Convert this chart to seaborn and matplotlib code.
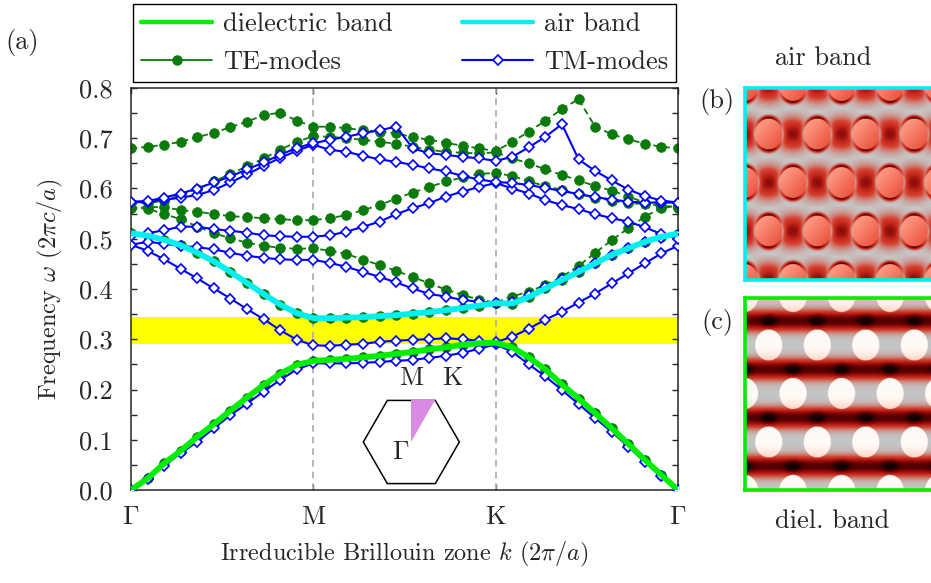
import numpy as np
import matplotlib
matplotlib.use("Agg")
import matplotlib.pyplot as plt
import seaborn as sns
from matplotlib.colors import LinearSegmentedColormap, to_rgb
from matplotlib.lines import Line2D
from matplotlib.patches import Polygon
from matplotlib.ticker import MultipleLocator, FormatStrFormatter

# ---------------------------------------------------------------------------
# Band structure along Γ-M-K-Γ (11 k-steps per segment, 34 k-points)
# ---------------------------------------------------------------------------
k_index = np.arange(34)
k_ticks = [0, 11, 22, 33]
k_labels = [r"$\Gamma$", r"$\mathrm{M}$", r"$\mathrm{K}$", r"$\Gamma$"]

gap_lo, gap_hi = 0.291, 0.345

# TE modes (ωa/2πc)
te1 = [0.000, 0.023, 0.053, 0.078, 0.106, 0.131, 0.158, 0.184, 0.209, 0.231, 0.249, 0.257,
       0.259, 0.261, 0.264, 0.267, 0.271, 0.275, 0.280, 0.284, 0.289, 0.292,
       0.293,
       0.284, 0.264, 0.240, 0.210, 0.182, 0.153, 0.123, 0.092, 0.060, 0.030, 0.000]
te2 = [0.511, 0.506, 0.498, 0.487, 0.472, 0.455, 0.434, 0.412, 0.390, 0.369, 0.352, 0.342,
       0.342, 0.343, 0.344, 0.346, 0.348, 0.351, 0.354, 0.358, 0.362, 0.367,
       0.372,
       0.371, 0.384, 0.401, 0.418, 0.434, 0.451, 0.468, 0.481, 0.494, 0.504, 0.510]
te3 = [0.561, 0.560, 0.549, 0.539, 0.524, 0.511, 0.501, 0.492, 0.486, 0.482, 0.480, 0.481,
       0.476, 0.470, 0.458, 0.448, 0.436, 0.424, 0.411, 0.399, 0.388, 0.379,
       0.373,
       0.385, 0.395, 0.408, 0.424, 0.446, 0.472, 0.497, 0.521, 0.544, 0.561, 0.566]
te4 = [0.561, 0.563, 0.563, 0.557, 0.554, 0.549, 0.545, 0.543, 0.541, 0.539, 0.537, 0.537,
       0.541, 0.547, 0.557, 0.567, 0.580, 0.592, 0.603, 0.614, 0.622, 0.629,
       0.631,
       0.625, 0.614, 0.605, 0.597, 0.589, 0.582, 0.576, 0.571, 0.569, 0.565, 0.564]
te5 = [0.571, 0.571, 0.576, 0.587, 0.599, 0.614, 0.629, 0.644, 0.660, 0.677, 0.693, 0.704,
       0.703, 0.700, 0.697, 0.693, 0.689, 0.683, 0.677, 0.673, 0.671, 0.670,
       0.672,
       0.660, 0.650, 0.638, 0.627, 0.616, 0.605, 0.596, 0.584, 0.572, 0.564, 0.561]
te6 = [0.680, 0.683, 0.687, 0.693, 0.702, 0.711, 0.722, 0.733, 0.746, 0.751, 0.735, 0.723,
       0.723, 0.720, 0.716, 0.713, 0.710, 0.702, 0.697, 0.691, 0.685, 0.680,
       0.674,
       0.693, 0.713, 0.735, 0.758, 0.778, 0.723, 0.708, 0.698, 0.689, 0.683, 0.680]

# TM modes (ωa/2πc)
tm1 = [0.000, 0.022, 0.048, 0.073, 0.096, 0.123, 0.149, 0.172, 0.196, 0.219, 0.240, 0.252,
       0.252, 0.252, 0.253, 0.255, 0.257, 0.259, 0.263, 0.267, 0.273, 0.281,
       0.290,
       0.275, 0.250, 0.226, 0.199, 0.171, 0.143, 0.116, 0.086, 0.056, 0.027, 0.000]
tm2 = [0.488, 0.476, 0.459, 0.440, 0.421, 0.401, 0.381, 0.360, 0.340, 0.318, 0.299, 0.288,
       0.287, 0.289, 0.291, 0.295, 0.297, 0.299, 0.300, 0.302, 0.300, 0.297,
       0.294,
       0.305, 0.321, 0.339, 0.355, 0.373, 0.391, 0.411, 0.431, 0.451, 0.471, 0.486]
tm3 = [0.488, 0.494, 0.490, 0.486, 0.483, 0.479, 0.472, 0.466, 0.462, 0.459, 0.458, 0.458,
       0.452, 0.444, 0.434, 0.424, 0.413, 0.401, 0.390, 0.385, 0.378, 0.375,
       0.372,
       0.375, 0.388, 0.404, 0.420, 0.436, 0.452, 0.468, 0.481, 0.493, 0.502, 0.507]
tm4 = [0.505, 0.511, 0.517, 0.524, 0.524, 0.519, 0.516, 0.512, 0.507, 0.505, 0.504, 0.504,
       0.507, 0.514, 0.524, 0.534, 0.549, 0.561, 0.571, 0.584, 0.594, 0.603,
       0.611,
       0.600, 0.590, 0.577, 0.567, 0.559, 0.549, 0.541, 0.534, 0.523, 0.509, 0.500]
tm5 = [0.573, 0.573, 0.577, 0.582, 0.587, 0.597, 0.612, 0.628, 0.645, 0.661, 0.675, 0.687,
       0.677, 0.673, 0.665, 0.658, 0.653, 0.647, 0.640, 0.634, 0.625, 0.618,
       0.613,
       0.611, 0.607, 0.601, 0.595, 0.589, 0.583, 0.578, 0.574, 0.572, 0.572, 0.572]
tm6 = [0.574, 0.575, 0.582, 0.590, 0.600, 0.612, 0.624, 0.638, 0.652, 0.667, 0.681, 0.690,
       0.697, 0.703, 0.710, 0.716, 0.723, 0.680, 0.670, 0.667, 0.663, 0.660,
       0.655,
       0.663, 0.682, 0.703, 0.728, 0.658, 0.635, 0.616, 0.598, 0.585, 0.576, 0.572]

te_bands = [te1, te2, te3, te4, te5, te6]
tm_bands = [tm1, tm2, tm3, tm4, tm5, tm6]
dielectric_band = te1
air_band = te2

TE_COLOR = "#0a7a0a"
TM_COLOR = "#0000ff"
DIEL_COLOR = "#00ee00"
AIR_COLOR = "#00f0f0"
FS = 19

sns.set_theme(style="ticks")
plt.rcParams.update({
    "font.family": "cmr10",
    "mathtext.fontset": "cm",
    "axes.formatter.use_mathtext": True,
    "font.size": FS,
    "axes.linewidth": 1.1,
    "xtick.direction": "in",
    "ytick.direction": "in",
    "xtick.major.size": 4.5,
    "ytick.major.size": 4.5,
    "ytick.minor.size": 4.5,
    "xtick.major.width": 1.0,
    "ytick.major.width": 1.0,
    "ytick.minor.width": 1.0,
})

W_PX, H_PX = 931, 583
fig = plt.figure(figsize=(W_PX / 100, H_PX / 100), dpi=100)


def fig_rect(x0, y0, x1, y1):
    """Pixel box (top-left origin) -> figure fraction rect."""
    return [x0 / W_PX, 1 - y1 / H_PX, (x1 - x0) / W_PX, (y1 - y0) / H_PX]


ax = fig.add_axes(fig_rect(131, 88, 678, 490))

# photonic band gap
ax.axhspan(gap_lo, gap_hi, color="#ffff00", lw=0, zorder=0)
for kk in k_ticks[1:3]:
    ax.axvline(kk, color="#aaaaaa", lw=1.2, ls=(0, (4, 3)), zorder=1)

for band in te_bands:
    sns.lineplot(x=k_index, y=band, ax=ax, color=TE_COLOR, lw=1.3,
                 linestyle=(0, (3.5, 2.2)), marker="o", markersize=7,
                 markerfacecolor=TE_COLOR, markeredgecolor=TE_COLOR,
                 markeredgewidth=0.5, legend=False, zorder=2)
for band in tm_bands:
    sns.lineplot(x=k_index, y=band, ax=ax, color=TM_COLOR, lw=1.5,
                 marker="D", markersize=4.6, markerfacecolor="white",
                 markeredgecolor=TM_COLOR, markeredgewidth=1.2,
                 legend=False, zorder=3)

sns.lineplot(x=k_index, y=dielectric_band, ax=ax, color=DIEL_COLOR, lw=4.2,
             legend=False, zorder=4, solid_capstyle="butt")
sns.lineplot(x=k_index, y=air_band, ax=ax, color=AIR_COLOR, lw=4.2,
             legend=False, zorder=4, solid_capstyle="butt")

ax.set_xlim(0, 33)
ax.set_ylim(0, 0.8)
ax.set_xticks(k_ticks)
ax.set_xticklabels(k_labels, fontsize=FS)
ax.yaxis.set_major_locator(MultipleLocator(0.1))
ax.yaxis.set_minor_locator(MultipleLocator(0.05))
ax.yaxis.set_major_formatter(FormatStrFormatter("%.1f"))
ax.tick_params(top=True, right=True, which="both", labelsize=FS)
ax.tick_params(axis="x", pad=11)
ax.tick_params(axis="y", pad=13)
ax.set_xlabel(r"Irreducible Brillouin zone $k$ $(2\pi/a)$", fontsize=FS - 1.5, labelpad=8)
ax.set_ylabel(r"Frequency $\omega$ $(2\pi c/a)$", fontsize=FS - 1.5, labelpad=10)

# First Brillouin zone sketch with the irreducible wedge
hx = ax.inset_axes([(355 - 131) / 547, (490 - 488) / 402, 112 / 547, 116 / 402])
hx.set_xlim(-1.173, 1.160)
hx.set_ylim(-0.958, 1.458)
hx.axis("off")
ang = np.deg2rad(np.arange(0, 360, 60))
hexagon = np.column_stack([np.cos(ang), np.sin(ang)])
hx.add_patch(Polygon(hexagon, closed=True, fill=False, ec="black", lw=1.1))
h = np.sqrt(3) / 2
hx.add_patch(Polygon([(0, 0), (0, h), (0.5, h)], closed=True, fc="#d98ae3", ec="none"))
hx.text(0, 1.33, r"$\mathrm{M}$", ha="center", va="center", fontsize=FS, clip_on=False)
hx.text(0.87, 1.33, r"$\mathrm{K}$", ha="center", va="center", fontsize=FS, clip_on=False)
hx.text(-0.22, -0.22, r"$\Gamma$", ha="center", va="center", fontsize=FS)

# Legend (two columns: line styles left, marker styles right)
handles = [
    Line2D([], [], color=DIEL_COLOR, lw=3.2),
    Line2D([], [], color=TE_COLOR, lw=1.3, marker="o", markersize=6.5),
    Line2D([], [], color=AIR_COLOR, lw=3.2),
    Line2D([], [], color=TM_COLOR, lw=1.5, marker="D", markersize=4.6,
           markerfacecolor="white", markeredgewidth=1.2),
]
labels = ["dielectric band", "TE-modes", "air band", "TM-modes"]
fig.legend(handles, labels, ncol=2, loc="center", mode="expand",
           bbox_to_anchor=(133 / W_PX, 1 - 82 / H_PX, 543 / W_PX, 78 / H_PX),
           fontsize=FS, frameon=True, fancybox=False, edgecolor="black",
           framealpha=1, borderaxespad=0, borderpad=0.3, labelspacing=0.55,
           handlelength=2.7, handletextpad=0.4, columnspacing=1.0)


# ---------------------------------------------------------------------------
# Field-intensity maps on the triangular hole lattice
# ---------------------------------------------------------------------------
PANEL_W, PANEL_H = 215, 192
PITCH_X, PITCH_Y = 48.3, 48.5
HOLE_RX, HOLE_RY = 13.5, 15.5
SS = 3


def lattice_maps(row_y0, x_even, x_odd):
    u = (np.arange(PANEL_W * SS) + 0.5) / SS
    v = (np.arange(PANEL_H * SS) + 0.5) / SS
    U, V = np.meshgrid(u, v)
    best_d = np.full(U.shape, np.inf)
    best_dx = np.zeros(U.shape)
    best_dy = np.zeros(U.shape)
    rows = []
    for k in range(-1, 6):
        yc = row_y0 + k * PITCH_Y
        xo = x_even if k % 2 == 0 else x_odd
        rows.append((yc, xo))
        for n in range(-1, 6):
            xc = xo + n * PITCH_X
            dx = (U - xc) / HOLE_RX
            dy = (V - yc) / HOLE_RY
            d = np.hypot(dx, dy)
            m = d < best_d
            best_d[m] = d[m]
            best_dx[m] = dx[m]
            best_dy[m] = dy[m]
    dv_row = np.full(U.shape, np.inf)
    row_phase = np.zeros(U.shape)
    dv_mid = np.full(U.shape, np.inf)
    mid_xo = np.zeros(U.shape)
    for yc, xo in rows:
        a = np.abs(V - yc)
        m = a < dv_row
        dv_row[m] = a[m]
        row_phase[m] = ((U - xo) / PITCH_X)[m]
        b = np.abs(V - (yc + PITCH_Y / 2))
        m2 = b < dv_mid
        dv_mid[m2] = b[m2]
        nxt = x_odd if xo == x_even else x_even
        mid_xo[m2] = nxt
    return U, V, best_d, best_dx, best_dy, dv_row, row_phase, dv_mid, mid_xo


def blend(c0, c1, t):
    c0 = np.array(to_rgb(c0))
    c1 = np.array(to_rgb(c1))
    return c0 * (1 - t[..., None]) + c1 * t[..., None]


def air_band_image():
    U, V, d, dx, dy, dv_row, phase, dv_mid, mid_xo = lattice_maps(-2.5, -0.5, 23.65)
    dd = np.maximum(d, 1e-6)
    ring = np.exp(-((d - 1) / 0.17) ** 2) * (dy / dd) ** 2
    side = np.exp(-((d - 1) / 0.25) ** 2) * (dx / dd) ** 2
    bridge = np.exp(-(dv_row / 13.5) ** 2) * np.sin(np.pi * phase) ** 2
    inten = np.clip(0.95 * ring + 0.66 * bridge - 0.35 * side, -0.35, 1.0)
    cmap = LinearSegmentedColormap.from_list(
        "air", [(0.0, "#eeeeee"), (0.26, "#c6c6c6"), (0.45, "#d6412f"),
                (0.62, "#c0241a"), (0.82, "#700000"), (1.0, "#1a0000")])
    img = cmap((inten + 0.35) / 1.35)[..., :3]
    t = np.clip(0.5 + 0.35 * (dx + dy), 0, 1)
    hole = blend("#ff9c86", "#ec5640", t)
    inside = d < 1
    img[inside] = hole[inside]
    return img


def diel_band_image():
    U, V, d, dx, dy, dv_row, phase, dv_mid, mid_xo = lattice_maps(-1.5, -0.5, 23.65)
    band = np.exp(-(dv_mid / 9.0) ** 2)
    sx = ((U - mid_xo) / PITCH_X) % 1.0
    sx = np.minimum(sx, 1 - sx) * PITCH_X
    spots = np.exp(-(sx / 7.0) ** 2 - (dv_mid / 5.0) ** 2)
    inten = np.clip(0.78 * band + 0.4 * spots, 0, 1)
    cmap = LinearSegmentedColormap.from_list(
        "diel", [(0.0, "#c4c4c4"), (0.25, "#d2452f"), (0.5, "#a81010"),
                 (0.75, "#5c0000"), (1.0, "#140000")])
    img = cmap(inten)[..., :3]
    t = np.clip(dy, 0, 1) ** 2
    hole = blend("#fffaf6", "#ffd0c0", t)
    inside = d < 1
    img[inside] = hole[inside]
    return img


for (y0, y1, image, edge) in [(88, 280, air_band_image(), AIR_COLOR),
                              (298, 490, diel_band_image(), "#00ee00")]:
    pax = fig.add_axes(fig_rect(745, y0, 745 + PANEL_W, y1))
    pax.imshow(image, extent=(0, PANEL_W, PANEL_H, 0), aspect="auto",
               interpolation="bilinear")
    pax.set_xticks([])
    pax.set_yticks([])
    for sp in pax.spines.values():
        sp.set_color(edge)
        sp.set_linewidth(2.6)

fig.text(22 / W_PX, 1 - 42 / H_PX, "(a)", ha="center", va="center", fontsize=FS)
fig.text(717 / W_PX, 1 - 102 / H_PX, "(b)", ha="center", va="center", fontsize=FS)
fig.text(717 / W_PX, 1 - 323 / H_PX, "(c)", ha="center", va="center", fontsize=FS)
fig.text(823 / W_PX, 1 - 58 / H_PX, "air band", ha="center", va="center", fontsize=FS)
fig.text(832 / W_PX, 1 - 521 / H_PX, "diel. band", ha="center", va="center", fontsize=FS)

fig.savefig("out.png", dpi=100)
